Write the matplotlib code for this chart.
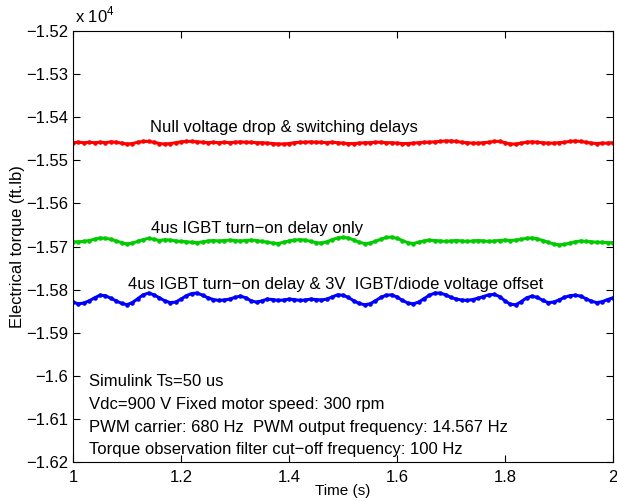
import numpy as np
import matplotlib
matplotlib.use("Agg")
import matplotlib.pyplot as plt
from matplotlib.ticker import FuncFormatter, MultipleLocator

plt.rcParams['font.family'] = ['Liberation Sans', 'DejaVu Sans']
plt.rcParams['mathtext.fontset'] = 'custom'
plt.rcParams['mathtext.rm'] = 'Liberation Sans'
plt.rcParams['font.size'] = 12

# electrical torque (ft.lb), sampled every 10 ms from 1 s to 2 s
red = [-15459, -15458, -15459, -15458, -15459, -15458, -15459, -15457, -15458, -15460,
       -15462, -15461, -15458, -15456, -15456, -15458, -15461, -15462, -15461, -15459,
       -15457, -15456, -15456, -15457, -15458, -15459, -15458, -15459, -15458, -15459,
       -15458, -15457, -15458, -15458, -15459, -15459, -15460, -15461, -15462, -15462,
       -15461, -15459, -15458, -15458, -15457, -15458, -15458, -15459, -15458, -15459,
       -15460, -15461, -15461, -15460, -15459, -15459, -15458, -15458, -15459, -15459,
       -15460, -15461, -15461, -15460, -15459, -15458, -15458, -15457, -15456, -15455,
       -15455, -15456, -15458, -15459, -15460, -15460, -15459, -15458, -15456, -15456,
       -15459, -15462, -15462, -15460, -15458, -15457, -15458, -15459, -15460, -15460,
       -15459, -15458, -15456, -15455, -15456, -15458, -15460, -15461, -15460, -15460,
       -15459]

green = [-15689, -15689, -15688, -15686, -15683, -15680, -15681, -15683, -15687, -15691,
         -15694, -15692, -15688, -15684, -15681, -15683, -15686, -15684, -15685, -15687,
         -15688, -15689, -15690, -15691, -15689, -15687, -15686, -15687, -15686, -15685,
         -15686, -15687, -15686, -15685, -15686, -15688, -15690, -15692, -15693, -15690,
         -15687, -15685, -15684, -15685, -15688, -15691, -15692, -15689, -15684, -15680,
         -15679, -15680, -15685, -15690, -15693, -15692, -15688, -15683, -15679, -15678,
         -15681, -15686, -15691, -15693, -15690, -15687, -15685, -15686, -15687, -15688,
         -15687, -15686, -15687, -15688, -15687, -15686, -15687, -15688, -15687, -15686,
         -15685, -15686, -15685, -15683, -15681, -15680, -15682, -15686, -15690, -15694,
         -15696, -15695, -15692, -15689, -15687, -15688, -15689, -15690, -15690, -15691,
         -15691]

blue = [-15829, -15833, -15831, -15826, -15819, -15813, -15814, -15820, -15826, -15832,
        -15835, -15830, -15821, -15812, -15808, -15812, -15819, -15826, -15830, -15829,
        -15822, -15814, -15809, -15808, -15813, -15819, -15823, -15825, -15824, -15822,
        -15818, -15815, -15819, -15826, -15829, -15826, -15822, -15823, -15825, -15824,
        -15822, -15823, -15825, -15824, -15822, -15823, -15824, -15822, -15817, -15812,
        -15813, -15818, -15826, -15832, -15835, -15833, -15826, -15818, -15813, -15812,
        -15817, -15825, -15831, -15833, -15829, -15821, -15813, -15808, -15808, -15812,
        -15818, -15822, -15824, -15825, -15823, -15820, -15816, -15812, -15811, -15816,
        -15826, -15834, -15835, -15828, -15819, -15815, -15818, -15825, -15830, -15829,
        -15824, -15818, -15814, -15813, -15815, -15821, -15827, -15830, -15828, -15823,
        -15819]

labels = ["Null voltage drop & switching delays",
          "4us IGBT turn\u2212on delay only",
          "4us IGBT turn\u2212on delay & 3V  IGBT/diode voltage offset"]

notes = ["Simulink Ts=50 us",
         "Vdc=900 V Fixed motor speed: 300 rpm",
         "PWM carrier: 680 Hz  PWM output frequency: 14.567 Hz",
         "Torque observation filter cut\u2212off frequency: 100 Hz"]

t = np.linspace(1, 2, len(red))

fig = plt.figure(figsize=(6.17, 5.01), dpi=100)
ax = fig.add_axes([0.1183, 0.0778, 0.8752, 0.8602])

for y, c in zip([red, green, blue], ['#ff0000', '#00cc00', '#0000ff']):
    ax.plot(t, y, color=c, lw=2.2, marker='.', ms=4.5)

ax.set_xlim(1, 2)
ax.set_ylim(-16200, -15200)
ax.xaxis.set_major_locator(MultipleLocator(0.2))
ax.yaxis.set_major_locator(MultipleLocator(100))
ax.xaxis.set_major_formatter(FuncFormatter(lambda v, p: ('%g' % round(v, 2))))
ax.yaxis.set_major_formatter(FuncFormatter(lambda v, p: ('%g' % round(v / 1e4, 3)).replace('-', '\u2212')))
ax.tick_params(direction='in', top=True, right=True, length=5, labelsize=12)
ax.tick_params(axis='x', pad=6)
ax.set_xlabel('Time (s)', fontsize=11, labelpad=-1)
ax.set_ylabel('Electrical torque (ft.lb)', fontsize=12)
ax.yaxis.set_label_coords(-0.088, 0.5)
ax.text(0.003, 1.012, r'x 10$^4$', transform=ax.transAxes, fontsize=12, va='bottom')

ax.text(1.143, -15423, labels[0], va='center')
ax.text(1.145, -15657, labels[1], va='center')
ax.text(1.101, -15787, labels[2], va='center')

for i, s in enumerate(notes):
    ax.text(1.03, -16014 - i * 52.6, s, va='center')

fig.savefig('out.png', dpi=100)
